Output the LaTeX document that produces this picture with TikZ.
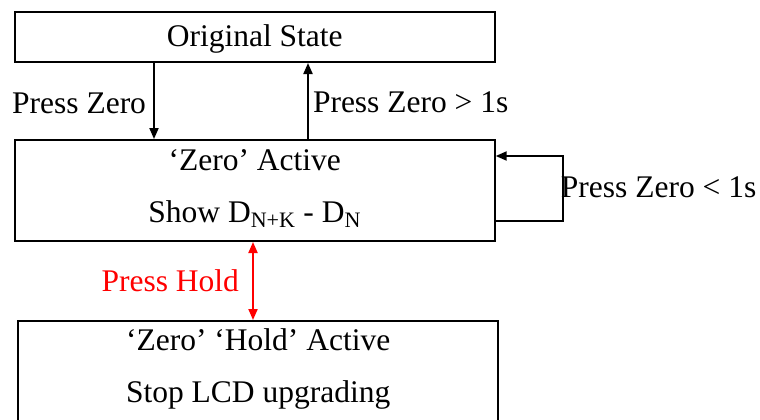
\documentclass[tikz,border=0pt]{standalone}
\usepackage{fontspec}
\setmainfont{Liberation Serif}
\usetikzlibrary{arrows.meta,positioning}
\tikzset{
    state/.style={rectangle,draw,line width=2pt,minimum width=480pt,inner sep=0pt,align=center,font=\fontsize{31.5}{52}\selectfont},
    lbl/.style={font=\fontsize{31.5}{36}\selectfont,inner sep=0pt},
    pre/.style={->,line width=2pt,>={Triangle[length=11pt,width=9pt]}},
    bi/.style={<->,line width=2pt,>={Triangle[length=11pt,width=9pt]},red}
}

\begin{document}
\begin{tikzpicture}[x=1pt,y=-1pt]

    \useasboundingbox (0,0) rectangle (760,420);
    \clip (0,0) rectangle (760,420);

    \node[state,minimum height=50pt,text height=22pt,text depth=2.6pt] (orig state) at (254.7,37) {Original State};
    \node[state,minimum height=101pt,text height=73pt,text depth=10pt] (zero active) [below=76pt of orig state]
        {‘Zero’ Active\\Show D\textsubscript{N+K} - D\textsubscript{N}};
    \node[state,minimum height=101pt,text height=73pt,text depth=12pt] (hold active) [below=78pt of zero active,xshift=3.5pt]
        {‘Zero’ ‘Hold’ Active\\Stop LCD upgrading};

    \draw[pre] ([xshift=-100.7pt]orig state.south) -- ([xshift=-100.7pt]zero active.north)
        node[lbl,midway,left=7pt,yshift=-2pt] {Press Zero};
    \draw[pre] ([xshift=53.3pt]zero active.north) -- ([xshift=53.3pt]orig state.south)
        node[lbl,midway,right=4pt,yshift=-1pt] {Press Zero > 1s};

    \draw[pre] ([yshift=-30.2pt]zero active.east) -- ++(67pt,0) coordinate (loop low)
        |- ([yshift=34.5pt]zero active.east);
    \node[lbl,anchor=west,yshift=3.5pt] (loop label) at ([xshift=-2pt]loop low |- zero active.east) {Press Zero < 1s};

    \draw[bi] ([xshift=-1.7pt]zero active.south) -- ([xshift=-1.7pt]zero active.south |- hold active.north)
        node[lbl,midway,left=13pt] {Press Hold};

\end{tikzpicture}
\end{document}
